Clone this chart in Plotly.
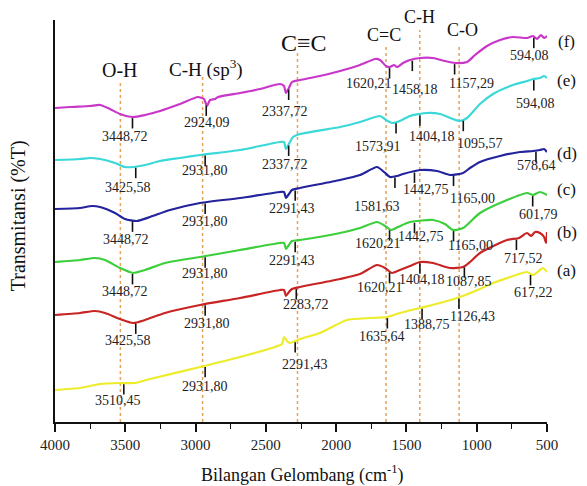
import numpy as np
import plotly.graph_objects as go

# FTIR spectra, wavenumber (cm-1) vs stacked transmittance (arbitrary offset units)
wn_f = [4000, 3893, 3751, 3680, 3609, 3538, 3445, 3360, 3253, 3111, 2983, 2940, 2919, 2897, 2862, 2840,
        2684, 2542, 2399, 2371, 2357, 2336, 2314, 2257, 2115, 1972, 1830, 1723, 1688, 1645, 1617, 1588,
        1567, 1524, 1475, 1403, 1311, 1226, 1154, 1069, 1012, 927, 834, 742, 642, 599, 571, 543, 521, 500]
t_f = [78.5, 78.75, 79, 79.25, 78.25, 77, 76.25, 76.75, 77.75, 79.5, 81.25, 80.75, 79, 80.5, 80.75, 81.25,
       82.25, 83.25, 84.5, 84, 82.25, 83.5, 85, 85.5, 86.5, 87.75, 89.25, 90.75, 90.5, 89, 88.75, 89.25,
       88.75, 89.75, 90.5, 91, 91, 90.25, 89.75, 90, 91.75, 94, 95.5, 96.25, 96, 96.5, 95.75, 96.75, 96, 96.5]

wn_e = [4000, 3822, 3751, 3680, 3573, 3502, 3445, 3360, 3253, 3111, 2968, 2684, 2399, 2371, 2357, 2336,
        2307, 2257, 1972, 1830, 1688, 1645, 1603, 1546, 1475, 1354, 1261, 1169, 1119, 1069, 977, 884,
        742, 642, 599, 550, 521, 500]
t_e = [65.5, 65.75, 66, 65.75, 64.75, 63.75, 63.75, 64.25, 65.25, 66, 66.75, 68, 70, 70, 68.25, 69.5,
       71.25, 72, 73.75, 75, 76.5, 75.5, 74.75, 75.25, 76.5, 77.25, 77, 75.75, 75.25, 76, 79.5, 82,
       84.25, 85.25, 85.75, 86, 86.5, 86]

wn_d = [4000, 3822, 3737, 3680, 3573, 3502, 3417, 3324, 3182, 2968, 2684, 2399, 2371, 2357, 2336, 2314,
        2257, 1972, 1830, 1709, 1659, 1617, 1567, 1524, 1403, 1282, 1190, 1097, 1048, 977, 834, 692,
        599, 550, 521, 500]
t_d = [53.25, 53.5, 54, 53.75, 52.25, 50.75, 50.25, 51.25, 53, 54.75, 56, 57.5, 57.5, 56, 57, 58,
       58.5, 60.5, 61.75, 63.75, 62.5, 61.25, 61.5, 62, 63, 62.75, 61.75, 62.25, 63.5, 65, 66.5, 67.5,
       67.75, 68, 68.25, 67.5]

wn_c = [4000, 3822, 3716, 3644, 3538, 3445, 3360, 3218, 2968, 2684, 2399, 2371, 2357, 2336, 2314, 2257,
        1972, 1830, 1709, 1652, 1610, 1560, 1475, 1311, 1226, 1169, 1097, 977, 784, 642, 599, 550, 500]
t_c = [40, 40.5, 41, 40.5, 38.5, 37.25, 38, 39.75, 41.25, 43, 44.75, 44.75, 43.25, 44.25, 45.25, 45.5,
       47.25, 48.5, 50, 49, 48, 48.75, 50, 50.5, 49.5, 48, 48.5, 52.25, 55.5, 57.25, 56.75, 57.5, 56.75]

wn_b = [4000, 3822, 3716, 3644, 3538, 3445, 3360, 3218, 2968, 2684, 2399, 2371, 2357, 2336, 2314, 2257,
        1972, 1830, 1709, 1652, 1603, 1546, 1475, 1403, 1311, 1190, 1097, 1048, 977, 784, 699, 642,
        613, 585, 550, 521, 507, 500]
t_b = [26.75, 27.25, 27.75, 27.25, 25.75, 24.75, 25.5, 27.25, 29.25, 31, 33, 33, 31.5, 32.5, 33.25, 33.75,
       35.75, 37, 39.25, 38.5, 37.25, 38, 39, 40, 39.75, 38.5, 38.75, 40, 42.25, 45.5, 46, 47.25,
       46.5, 47.5, 47.25, 46.25, 44.75, 47.5]

wn_a = [4000, 3822, 3751, 3680, 3538, 3431, 3324, 2968, 2684, 2435, 2385, 2371, 2350, 2328, 2257, 2115,
        1923, 1759, 1638, 1546, 1403, 1261, 1119, 977, 884, 763, 642, 599, 550, 529, 500]
t_a = [8, 8.5, 9, 9.5, 9.75, 9.75, 10.75, 13.75, 16.25, 18.75, 19.5, 21.25, 20.25, 19.75, 20.75, 22.25,
       25.5, 26, 26.25, 27.25, 28.5, 29.75, 31.25, 33.25, 34.75, 36.25, 37.5, 36.75, 38, 38.5, 37.5]

series_names = ["(f)", "(e)", "(d)", "(c)", "(b)", "(a)"]
series_wn = [wn_f, wn_e, wn_d, wn_c, wn_b, wn_a]
series_t = [t_f, t_e, t_d, t_c, t_b, t_a]
series_colors = ["#c936c9", "#3ad8d8", "#23239e", "#3ccf3c", "#c82424", "#ecec2a"]

# labelled band positions for each spectrum
peaks_f = [3448.72, 2924.09, 2337.72, 1620.21, 1458.18, 1157.29, 594.08]
peaks_e = [3425.58, 2931.80, 2337.72, 1573.91, 1404.18, 1095.57, 594.08]
peaks_d = [3448.72, 2931.80, 2291.43, 1581.63, 1442.75, 1165.00, 578.64]
peaks_c = [3448.72, 2931.80, 2291.43, 1620.21, 1442.75, 1165.00, 601.79]
peaks_b = [3425.58, 2931.80, 2283.72, 1620.21, 1404.18, 1087.85, 717.52]
peaks_a = [3510.45, 2931.80, 2291.43, 1635.64, 1388.75, 1126.43, 617.22]
series_peaks = [peaks_f, peaks_e, peaks_d, peaks_c, peaks_b, peaks_a]

# label offsets (pixels) relative to the band marker
label_dx = [[-7, 1, -4, -21, 3, 17, -4],
            [-8, 0, -4, -18, 12, 17, 2],
            [-6, 0, -3, -18, 12, 19, 1],
            [-7, 0, -3, -12, 7, 17, 6],
            [-8, 2, 10, -10, 2, 5, 7],
            [-6, 0, 10, -5, 5, 14, 3]]
label_dy = [[18, 17, 22, 15, 29, 19, 18],
            [20, 15, 19, 23, 21, 23, 23],
            [18, 18, 18, 29, 17, 23, 14],
            [17, 16, 19, 13, 14, 14, 18],
            [17, 18, 15, 15, 16, 14, 19],
            [16, 20, 22, 18, 16, 18, 18]]

# functional-group reference lines
group_names = ["O-H", "C-H (sp<sup>3</sup>)", "C\u2261C", "C=C", "C-H", "C-O"]
group_wn = [3535, 2950, 2275, 1645, 1405, 1125]
group_line_top = [85.5, 86.5, 92.5, 94.25, 98.0, 94.25]
group_label_y = [88.0, 88.5, 94.75, 96.75, 101.25, 98.0]
group_label_dx = [0, 3, 7, -2, 0, 3]
group_font = [20, 19, 24, 18, 18, 18]

series_label_y = [95.0, 85.5, 67.25, 58.0, 47.5, 38.0]

Y_TOP = 100.5
SERIF = "Liberation Serif, Times New Roman, serif"

fig = go.Figure()

for wn, t in zip(group_wn, group_line_top):
    fig.add_shape(type="line", x0=wn, x1=wn, y0=0, y1=t, xref="x", yref="y",
                  line=dict(color="#e2a35c", width=1.5, dash="dot"), layer="below")

for name, wn, t, col in zip(series_names, series_wn, series_t, series_colors):
    fig.add_trace(go.Scatter(x=wn, y=t, mode="lines", name=name,
                             line=dict(color=col, width=2.2, shape="spline", smoothing=0.6),
                             showlegend=False, hoverinfo="skip"))

tick_x, tick_y = [], []
annotations = []
for wn, t, peaks, dxs, dys in zip(series_wn, series_t, series_peaks, label_dx, label_dy):
    xs = np.array(wn[::-1], dtype=float)
    ys = np.array(t[::-1], dtype=float)
    for p, dx, dy in zip(peaks, dxs, dys):
        yv = float(np.interp(p, xs, ys)) - 0.3
        tick_x += [p, p, None]
        tick_y += [yv, yv - 2.6, None]
        annotations.append(dict(x=p, y=yv, xref="x", yref="y", text=f"{p:.2f}".replace(".", ","),
                                showarrow=False, xshift=dx, yshift=-dy,
                                xanchor="center", yanchor="middle",
                                font=dict(family=SERIF, size=14, color="#222")))

fig.add_trace(go.Scatter(x=tick_x, y=tick_y, mode="lines", line=dict(color="#111", width=1.6),
                         showlegend=False, hoverinfo="skip"))

for name, wn, y, dx, fs in zip(group_names, group_wn, group_label_y, group_label_dx, group_font):
    annotations.append(dict(x=wn, y=y / Y_TOP, xref="x", yref="paper", text=name, showarrow=False,
                            xshift=dx, xanchor="center", yanchor="middle",
                            font=dict(family=SERIF, size=fs, color="#111")))

for name, y in zip(series_names, series_label_y):
    annotations.append(dict(x=1.04, y=y / Y_TOP, xref="paper", yref="paper", text=name, showarrow=False,
                            xanchor="center", yanchor="middle",
                            font=dict(family=SERIF, size=17, color="#111")))

annotations.append(dict(x=0.502, y=-0.13, xref="paper", yref="paper",
                        text="Bilangan Gelombang (cm<sup>-1</sup>)", showarrow=False,
                        xanchor="center", yanchor="middle",
                        font=dict(family=SERIF, size=18, color="#111")))
annotations.append(dict(x=-0.075, y=0.512, xref="paper", yref="paper", text="Transmitansi (%T)",
                        textangle=-90, showarrow=False, xanchor="center", yanchor="middle",
                        font=dict(family=SERIF, size=20, color="#111")))

fig.update_layout(
    width=587, height=486,
    margin=dict(l=55, r=40, t=20, b=64),
    paper_bgcolor="white", plot_bgcolor="white",
    annotations=annotations,
    xaxis=dict(range=[4000, 500], tickvals=[4000, 3500, 3000, 2500, 2000, 1500, 1000, 500],
               ticks="outside", ticklen=8, tickwidth=1.6, tickcolor="#111",
               minor=dict(dtick=250, ticks="outside", ticklen=5, tickwidth=1.4, tickcolor="#111"),
               showline=True, linecolor="#111", linewidth=2, showgrid=False, zeroline=False,
               tickfont=dict(family=SERIF, size=15, color="#222")),
    yaxis=dict(range=[0, Y_TOP], showticklabels=False, ticks="", showline=True, linecolor="#111",
               linewidth=2, showgrid=False, zeroline=False),
)

fig.write_html("out.html")
